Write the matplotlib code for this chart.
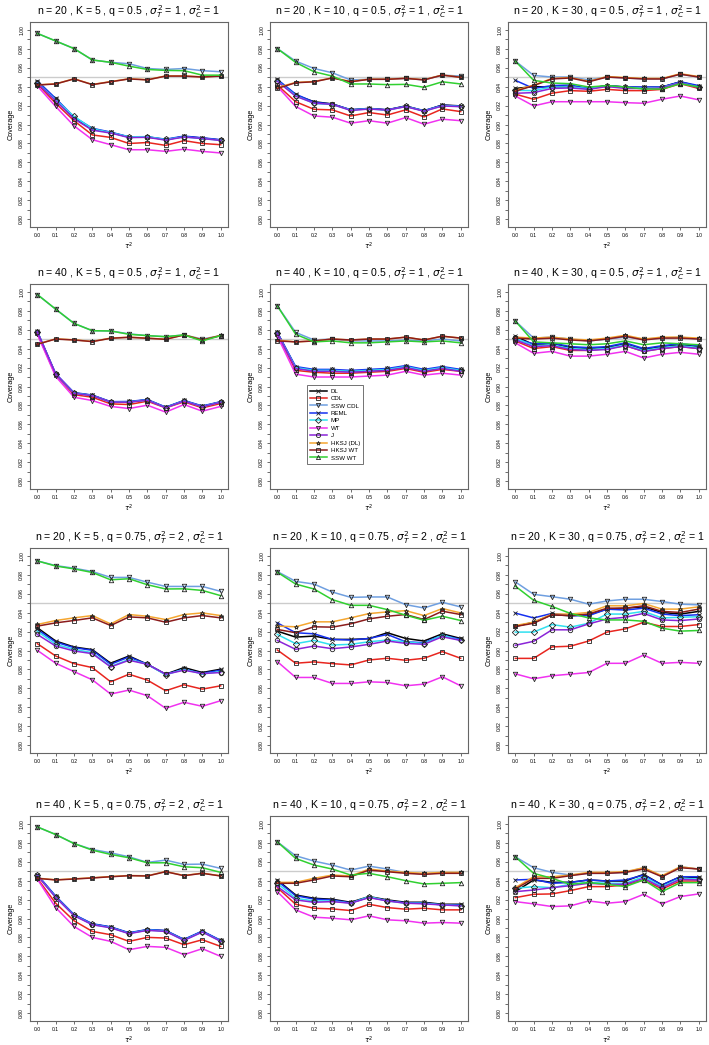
import numpy as np
import matplotlib
matplotlib.use("Agg")
import matplotlib.pyplot as plt
from matplotlib.ticker import MultipleLocator
from matplotlib.lines import Line2D

plt.rcParams['font.family'] = ['Liberation Sans', 'DejaVu Sans']
plt.rcParams['mathtext.fontset'] = 'dejavusans'

tau2 = [0.0, 0.1, 0.2, 0.3, 0.4, 0.5, 0.6, 0.7, 0.8, 0.9, 1.0]
methods = ["DL", "CDL", "SSW CDL", "REML", "MP", "WT", "J", "HKSJ (DL)", "HKSJ WT", "SSW WT"]
colors = ["#000000", "#e8261f", "#6f9fe0", "#1530f0", "#30e0f0",
          "#f032f0", "#8a24d8", "#f5a630", "#8b1c1c", "#30d030"]
markers = ["x", "s", "v", "x", "D", "v", "o", "*", "s", "^"]

# panel settings: (n, K, q, sigma2_T)
panels = [(20, 5, 0.5, 1), (20, 10, 0.5, 1), (20, 30, 0.5, 1),
          (40, 5, 0.5, 1), (40, 10, 0.5, 1), (40, 30, 0.5, 1),
          (20, 5, 0.75, 2), (20, 10, 0.75, 2), (20, 30, 0.75, 2),
          (40, 5, 0.75, 2), (40, 10, 0.75, 2), (40, 30, 0.75, 2)]

# coverage, rows in the order of `methods`
cov_20_5_05 = [
    [0.945, 0.9266, 0.9073, 0.895, 0.8916, 0.8867, 0.887, 0.884, 0.8874, 0.8857, 0.8836],
    [0.9427, 0.9224, 0.904, 0.889, 0.8864, 0.880, 0.881, 0.878, 0.883, 0.880, 0.8787],
    [0.996, 0.988, 0.980, 0.968, 0.9655, 0.964, 0.959, 0.958, 0.959, 0.9567, 0.9556],
    [0.946, 0.9275, 0.908, 0.896, 0.892, 0.887, 0.887, 0.8845, 0.8878, 0.886, 0.884],
    [0.944, 0.926, 0.9085, 0.8955, 0.8915, 0.887, 0.8872, 0.8842, 0.887, 0.885, 0.8835],
    [0.9406, 0.919, 0.8986, 0.884, 0.8787, 0.8734, 0.8734, 0.8717, 0.874, 0.8717, 0.870],
    [0.9435, 0.925, 0.906, 0.894, 0.891, 0.8862, 0.8865, 0.8835, 0.8868, 0.8852, 0.8832],
    [0.9418, 0.9428, 0.9482, 0.9422, 0.9452, 0.9482, 0.9472, 0.9512, 0.9512, 0.9502, 0.9512],
    [0.9416, 0.9427, 0.948, 0.942, 0.945, 0.948, 0.947, 0.951, 0.951, 0.950, 0.951],
    [0.996, 0.988, 0.980, 0.968, 0.9655, 0.9615, 0.958, 0.957, 0.9567, 0.952, 0.952],
]
cov_20_10_05 = [
    [0.9469, 0.931, 0.924, 0.9217, 0.9154, 0.917, 0.9154, 0.9196, 0.9143, 0.9206, 0.9196],
    [0.9416, 0.924, 0.916, 0.9154, 0.909, 0.9126, 0.910, 0.9154, 0.908, 0.9164, 0.9136],
    [0.980, 0.9668, 0.959, 0.9545, 0.9469, 0.9476, 0.948, 0.9486, 0.947, 0.952, 0.951],
    [0.9475, 0.932, 0.9235, 0.9215, 0.9156, 0.9168, 0.9156, 0.9192, 0.9147, 0.9203, 0.9193],
    [0.946, 0.9305, 0.9222, 0.921, 0.9152, 0.9165, 0.915, 0.919, 0.9142, 0.9198, 0.919],
    [0.940, 0.919, 0.909, 0.9077, 0.9014, 0.904, 0.9014, 0.9073, 0.9003, 0.9056, 0.904],
    [0.9455, 0.9298, 0.9225, 0.9212, 0.9148, 0.9163, 0.9152, 0.9188, 0.914, 0.9195, 0.9188],
    [0.939, 0.9443, 0.9453, 0.9492, 0.9453, 0.9478, 0.9478, 0.9488, 0.9472, 0.9522, 0.9498],
    [0.938, 0.944, 0.945, 0.949, 0.945, 0.9476, 0.9476, 0.9486, 0.947, 0.952, 0.9497],
    [0.980, 0.9654, 0.9556, 0.951, 0.9427, 0.9427, 0.942, 0.9423, 0.9392, 0.945, 0.9427],
]
cov_20_30_05 = [
    [0.938, 0.9399, 0.9395, 0.9395, 0.938, 0.941, 0.9395, 0.939, 0.9395, 0.945, 0.940],
    [0.932, 0.9266, 0.933, 0.9357, 0.935, 0.937, 0.9357, 0.9357, 0.937, 0.943, 0.938],
    [0.9668, 0.9517, 0.950, 0.950, 0.947, 0.950, 0.949, 0.948, 0.948, 0.953, 0.950],
    [0.9465, 0.938, 0.941, 0.9416, 0.938, 0.941, 0.9395, 0.9395, 0.9395, 0.945, 0.941],
    [0.936, 0.9357, 0.9395, 0.9395, 0.9378, 0.9405, 0.939, 0.9385, 0.939, 0.944, 0.9395],
    [0.930, 0.9196, 0.924, 0.924, 0.924, 0.924, 0.923, 0.9224, 0.9266, 0.930, 0.926],
    [0.9329, 0.9336, 0.938, 0.9385, 0.937, 0.940, 0.938, 0.938, 0.9385, 0.944, 0.939],
    [0.936, 0.9415, 0.9485, 0.9495, 0.9455, 0.9505, 0.9495, 0.9485, 0.9485, 0.9535, 0.9505],
    [0.935, 0.941, 0.948, 0.949, 0.945, 0.950, 0.949, 0.948, 0.948, 0.953, 0.950],
    [0.9668, 0.9465, 0.9437, 0.943, 0.9395, 0.941, 0.9395, 0.9374, 0.9374, 0.943, 0.9395],
]
cov_40_5_05 = [
    [0.9578, 0.913, 0.8932, 0.8907, 0.8838, 0.8838, 0.886, 0.878, 0.885, 0.879, 0.8838],
    [0.956, 0.9117, 0.8914, 0.8887, 0.8817, 0.881, 0.8845, 0.8775, 0.8838, 0.8775, 0.882],
    [0.9969, 0.9815, 0.9665, 0.9588, 0.9585, 0.9555, 0.9536, 0.9525, 0.9543, 0.950, 0.9536],
    [0.958, 0.9135, 0.8936, 0.891, 0.884, 0.8842, 0.8863, 0.8783, 0.8853, 0.8795, 0.884],
    [0.9575, 0.9128, 0.893, 0.8905, 0.8835, 0.8836, 0.8858, 0.8778, 0.8848, 0.8788, 0.8836],
    [0.955, 0.9106, 0.8887, 0.8852, 0.879, 0.8768, 0.8803, 0.873, 0.881, 0.874, 0.879],
    [0.9576, 0.9132, 0.8928, 0.8903, 0.8836, 0.8834, 0.8856, 0.8776, 0.8846, 0.8786, 0.8834],
    [0.9447, 0.9502, 0.9492, 0.9475, 0.951, 0.952, 0.951, 0.9499, 0.9545, 0.9492, 0.9538],
    [0.9445, 0.950, 0.949, 0.9473, 0.9508, 0.9518, 0.9508, 0.9497, 0.9543, 0.949, 0.9536],
    [0.9969, 0.9815, 0.9665, 0.9588, 0.9585, 0.955, 0.9536, 0.9525, 0.9543, 0.948, 0.9536],
]
cov_40_10_05 = [
    [0.957, 0.920, 0.917, 0.917, 0.916, 0.917, 0.918, 0.921, 0.917, 0.920, 0.917],
    [0.955, 0.917, 0.915, 0.914, 0.914, 0.915, 0.916, 0.919, 0.915, 0.918, 0.916],
    [0.985, 0.957, 0.949, 0.950, 0.948, 0.948, 0.948, 0.949, 0.948, 0.950, 0.948],
    [0.957, 0.921, 0.918, 0.918, 0.917, 0.918, 0.919, 0.922, 0.918, 0.921, 0.918],
    [0.956, 0.920, 0.917, 0.917, 0.916, 0.917, 0.918, 0.921, 0.917, 0.920, 0.917],
    [0.953, 0.913, 0.910, 0.910, 0.910, 0.911, 0.912, 0.916, 0.912, 0.914, 0.912],
    [0.956, 0.919, 0.916, 0.916, 0.915, 0.916, 0.917, 0.920, 0.916, 0.919, 0.916],
    [0.949, 0.947, 0.948, 0.950, 0.949, 0.950, 0.950, 0.952, 0.949, 0.953, 0.951],
    [0.948, 0.947, 0.948, 0.950, 0.949, 0.950, 0.950, 0.952, 0.949, 0.953, 0.951],
    [0.985, 0.955, 0.947, 0.948, 0.946, 0.946, 0.947, 0.948, 0.947, 0.948, 0.946],
]
cov_40_30_05 = [
    [0.953, 0.944, 0.945, 0.941, 0.940, 0.941, 0.945, 0.939, 0.942, 0.944, 0.942],
    [0.948, 0.940, 0.942, 0.938, 0.938, 0.940, 0.943, 0.937, 0.940, 0.942, 0.940],
    [0.969, 0.951, 0.952, 0.950, 0.948, 0.950, 0.952, 0.950, 0.951, 0.952, 0.950],
    [0.950, 0.945, 0.946, 0.942, 0.941, 0.942, 0.946, 0.940, 0.943, 0.945, 0.943],
    [0.951, 0.943, 0.944, 0.940, 0.939, 0.940, 0.944, 0.938, 0.941, 0.943, 0.941],
    [0.946, 0.935, 0.937, 0.932, 0.932, 0.934, 0.937, 0.930, 0.934, 0.936, 0.934],
    [0.949, 0.942, 0.943, 0.939, 0.938, 0.939, 0.943, 0.937, 0.940, 0.942, 0.940],
    [0.952, 0.951, 0.952, 0.950, 0.949, 0.951, 0.954, 0.950, 0.952, 0.952, 0.951],
    [0.951, 0.950, 0.951, 0.949, 0.948, 0.950, 0.953, 0.949, 0.951, 0.951, 0.950],
    [0.969, 0.947, 0.946, 0.945, 0.944, 0.945, 0.948, 0.944, 0.946, 0.945, 0.944],
]
cov_20_5_075 = [
    [0.924, 0.910, 0.9037, 0.9009, 0.8866, 0.8942, 0.8855, 0.875, 0.882, 0.8768, 0.8803],
    [0.9072, 0.8942, 0.8862, 0.882, 0.867, 0.875, 0.8688, 0.8576, 0.8639, 0.8593, 0.8628],
    [0.9944, 0.9895, 0.9867, 0.9832, 0.977, 0.977, 0.972, 0.9675, 0.9675, 0.9675, 0.9623],
    [0.9222, 0.9089, 0.903, 0.9002, 0.8855, 0.8932, 0.8855, 0.875, 0.8803, 0.876, 0.8792],
    [0.9204, 0.9065, 0.9012, 0.8977, 0.8831, 0.8907, 0.8855, 0.8743, 0.8803, 0.8752, 0.8778],
    [0.9002, 0.8866, 0.8778, 0.8691, 0.8541, 0.8583, 0.8524, 0.8391, 0.8454, 0.8412, 0.8471],
    [0.9169, 0.9047, 0.8995, 0.8967, 0.8827, 0.8897, 0.8855, 0.875, 0.8792, 0.8757, 0.8768],
    [0.9274, 0.9316, 0.9344, 0.9368, 0.928, 0.9379, 0.9361, 0.9326, 0.9379, 0.9396, 0.9368],
    [0.9257, 0.9291, 0.9316, 0.9344, 0.9263, 0.9354, 0.9344, 0.9298, 0.9344, 0.9368, 0.9344],
    [0.9944, 0.989, 0.986, 0.9822, 0.9745, 0.9756, 0.9693, 0.9648, 0.965, 0.9633, 0.9578],
]
cov_20_10_075 = [
    [0.9204, 0.9141, 0.9152, 0.9117, 0.9117, 0.9124, 0.9187, 0.9127, 0.910, 0.9176, 0.9127],
    [0.9005, 0.8866, 0.888, 0.8862, 0.8848, 0.890, 0.8918, 0.8897, 0.8918, 0.8988, 0.8918],
    [0.9832, 0.9728, 0.970, 0.9616, 0.956, 0.9564, 0.9564, 0.9483, 0.9448, 0.9508, 0.9459],
    [0.9291, 0.9187, 0.9176, 0.9117, 0.911, 0.9127, 0.9169, 0.9092, 0.9082, 0.9162, 0.9117],
    [0.9169, 0.9072, 0.9106, 0.9058, 0.9065, 0.9092, 0.911, 0.9092, 0.9072, 0.9162, 0.9106],
    [0.8883, 0.8716, 0.8716, 0.8653, 0.8653, 0.867, 0.8663, 0.8628, 0.8646, 0.8723, 0.8628],
    [0.9106, 0.9012, 0.9047, 0.9019, 0.9037, 0.9065, 0.910, 0.9075, 0.9065, 0.9145, 0.9106],
    [0.9257, 0.925, 0.9302, 0.9302, 0.9344, 0.9389, 0.9407, 0.942, 0.9368, 0.9442, 0.9396],
    [0.9222, 0.9187, 0.925, 0.9246, 0.9281, 0.9333, 0.9361, 0.9379, 0.9326, 0.9414, 0.9379],
    [0.9825, 0.970, 0.9648, 0.9536, 0.9476, 0.9476, 0.9431, 0.9372, 0.9319, 0.9361, 0.9316],
]
cov_20_30_075 = [
    [0.9253, 0.9298, 0.9377, 0.9367, 0.9377, 0.9436, 0.9446, 0.946, 0.9401, 0.9384, 0.9412],
    [0.8917, 0.8917, 0.9038, 0.9045, 0.910, 0.9194, 0.9228, 0.9298, 0.9253, 0.9253, 0.9273],
    [0.9723, 0.9592, 0.9567, 0.954, 0.9488, 0.9522, 0.954, 0.954, 0.9516, 0.9488, 0.9481],
    [0.9394, 0.9343, 0.9391, 0.9367, 0.9367, 0.9436, 0.9426, 0.9446, 0.9384, 0.9367, 0.9377],
    [0.9194, 0.9194, 0.9273, 0.9246, 0.9287, 0.9384, 0.9384, 0.9412, 0.9343, 0.935, 0.9356],
    [0.8754, 0.8702, 0.8734, 0.8751, 0.8768, 0.8865, 0.8865, 0.8952, 0.8865, 0.8875, 0.8865],
    [0.9055, 0.9097, 0.9218, 0.9218, 0.928, 0.9332, 0.935, 0.9391, 0.9322, 0.9315, 0.9332],
    [0.9263, 0.9298, 0.9384, 0.9384, 0.9401, 0.9471, 0.9471, 0.9495, 0.9436, 0.9436, 0.946],
    [0.9253, 0.9287, 0.9377, 0.9367, 0.9384, 0.9446, 0.9446, 0.9471, 0.9412, 0.9401, 0.9436],
    [0.9678, 0.9529, 0.9464, 0.9391, 0.9343, 0.9322, 0.9322, 0.9308, 0.9235, 0.9204, 0.9211],
]
cov_40_5_075 = [
    [0.9458, 0.9231, 0.9038, 0.8941, 0.8909, 0.8846, 0.8881, 0.8871, 0.8776, 0.8864, 0.8766],
    [0.9423, 0.9161, 0.8976, 0.8864, 0.8829, 0.8759, 0.8801, 0.8794, 0.8724, 0.8776, 0.8706],
    [0.9965, 0.9885, 0.979, 0.9727, 0.9692, 0.965, 0.9591, 0.9615, 0.957, 0.9573, 0.9528],
    [0.9462, 0.9236, 0.9042, 0.8945, 0.8912, 0.885, 0.8884, 0.8874, 0.878, 0.8868, 0.877],
    [0.9455, 0.9226, 0.9034, 0.8937, 0.8905, 0.8843, 0.8878, 0.8867, 0.8772, 0.886, 0.8762],
    [0.9416, 0.9115, 0.8916, 0.8801, 0.8759, 0.8671, 0.8706, 0.8696, 0.8619, 0.8682, 0.8601],
    [0.9452, 0.9222, 0.903, 0.8934, 0.8902, 0.884, 0.8875, 0.8864, 0.8769, 0.8857, 0.8759],
    [0.9425, 0.9408, 0.9418, 0.9429, 0.9442, 0.9453, 0.945, 0.9495, 0.9453, 0.9478, 0.945],
    [0.9423, 0.9406, 0.9416, 0.9427, 0.944, 0.9451, 0.9448, 0.9493, 0.9451, 0.9476, 0.9448],
    [0.9965, 0.9885, 0.979, 0.972, 0.9675, 0.964, 0.9587, 0.9587, 0.9545, 0.9535, 0.9486],
]
cov_40_10_075 = [
    [0.9406, 0.9248, 0.9213, 0.9203, 0.9171, 0.9231, 0.9196, 0.9171, 0.9171, 0.915, 0.915],
    [0.9325, 0.915, 0.9108, 0.9101, 0.9084, 0.915, 0.9115, 0.9098, 0.9108, 0.9091, 0.9091],
    [0.9808, 0.9661, 0.9605, 0.9563, 0.951, 0.9552, 0.9521, 0.9483, 0.9469, 0.9483, 0.9483],
    [0.9395, 0.924, 0.9205, 0.9196, 0.9164, 0.9224, 0.9189, 0.9164, 0.9164, 0.9143, 0.9143],
    [0.9371, 0.9213, 0.9185, 0.9185, 0.9161, 0.9231, 0.9185, 0.9161, 0.9161, 0.9143, 0.9136],
    [0.9283, 0.9091, 0.9014, 0.9003, 0.8986, 0.9028, 0.8986, 0.8976, 0.8951, 0.8958, 0.8951],
    [0.9336, 0.9196, 0.9171, 0.9178, 0.9161, 0.922, 0.9185, 0.9161, 0.9154, 0.9143, 0.9133],
    [0.9381, 0.9381, 0.9423, 0.9458, 0.9448, 0.9521, 0.950, 0.9486, 0.9476, 0.9486, 0.9486],
    [0.9371, 0.9371, 0.9406, 0.9448, 0.944, 0.951, 0.9493, 0.9476, 0.9465, 0.9476, 0.9476],
    [0.9808, 0.9633, 0.9563, 0.9521, 0.9458, 0.9476, 0.944, 0.9399, 0.9364, 0.9371, 0.9378],
]
cov_40_30_075 = [
    [0.9283, 0.9406, 0.9381, 0.9381, 0.9406, 0.9395, 0.9395, 0.9465, 0.9353, 0.944, 0.943],
    [0.922, 0.9255, 0.9259, 0.9294, 0.9336, 0.9336, 0.9353, 0.9406, 0.9311, 0.9395, 0.9395],
    [0.965, 0.9535, 0.9486, 0.9458, 0.9476, 0.9476, 0.9486, 0.9535, 0.944, 0.9545, 0.9521],
    [0.9406, 0.9413, 0.9371, 0.9381, 0.9406, 0.9395, 0.9406, 0.9458, 0.9353, 0.944, 0.944],
    [0.9318, 0.9336, 0.9325, 0.936, 0.9381, 0.9371, 0.9371, 0.944, 0.9336, 0.9423, 0.9416],
    [0.9178, 0.9154, 0.9126, 0.9133, 0.9185, 0.9161, 0.9178, 0.9255, 0.9154, 0.9231, 0.9259],
    [0.9283, 0.930, 0.9325, 0.9346, 0.9371, 0.936, 0.936, 0.9423, 0.9325, 0.9413, 0.9406],
    [0.9325, 0.944, 0.944, 0.9458, 0.9486, 0.9486, 0.9493, 0.9535, 0.9451, 0.9545, 0.9521],
    [0.9311, 0.9423, 0.9423, 0.9451, 0.9476, 0.9476, 0.9486, 0.9521, 0.944, 0.9535, 0.9521],
    [0.965, 0.9476, 0.9423, 0.936, 0.9378, 0.936, 0.9336, 0.9406, 0.9283, 0.9378, 0.9378],
]
coverage = [cov_20_5_05, cov_20_10_05, cov_20_30_05,
            cov_40_5_05, cov_40_10_05, cov_40_30_05,
            cov_20_5_075, cov_20_10_075, cov_20_30_075,
            cov_40_5_075, cov_40_10_075, cov_40_30_075]

W, H = 709, 1045
fig = plt.figure(figsize=(W / 100, H / 100), dpi=100)

col_left = [30, 270, 508]
row_top = [22, 284, 548, 816]
ax_w, ax_h = 198, 205

for idx, ((n, K, q, s2t), cov) in enumerate(zip(panels, coverage)):
    r, c = divmod(idx, 3)
    ax = fig.add_axes([col_left[c] / W, 1 - (row_top[r] + ax_h) / H, ax_w / W, ax_h / H])
    ax.axhline(0.95, color="#cccccc", lw=1.0, zorder=1)
    for m in range(len(methods)):
        ax.plot(tau2, cov[m], color=colors[m], lw=1.1, marker=markers[m],
                ms=3.2, mfc="none", mec="#222222", mew=0.6, zorder=2)
    ax.set_xlim(-0.04, 1.04)
    ax.set_ylim(0.792, 1.008)
    ax.set_xticks(tau2)
    ax.set_xticklabels([f"{t:.1f}" for t in tau2])
    ax.yaxis.set_major_locator(MultipleLocator(0.02))
    ax.yaxis.set_minor_locator(MultipleLocator(0.01))
    ax.yaxis.set_major_formatter(plt.FormatStrFormatter("%.2f"))
    ax.tick_params(axis="both", which="both", labelsize=3.6, length=2.2, width=0.5,
                   color="#333333", pad=2)
    for lab in ax.get_yticklabels():
        lab.set_rotation(90)
        lab.set_va("center")
    for sp in ax.spines.values():
        sp.set_color("#666666")
        sp.set_linewidth(0.8)
    ax.set_ylabel("Coverage", fontsize=5.2, labelpad=3)
    ax.set_xlabel(r"$\tau^2$", fontsize=5.2, labelpad=2)
    ax.set_title(f"n = {n} , K = {K} , q = {q} , " + r"$\sigma^2_T$" + f" = {s2t} , "
                 + r"$\sigma^2_C$" + " = 1", fontsize=7.6, pad=5)

    if idx == 4:
        handles = [Line2D([0], [0], color=colors[m], lw=1.1, marker=markers[m], ms=3,
                          mfc="none", mec="#222222", mew=0.6) for m in range(len(methods))]
        leg = ax.legend(handles, methods, loc="upper left", bbox_to_anchor=(0.17, 0.52),
                        fontsize=4.4, frameon=True, fancybox=False, handlelength=2.8,
                        borderpad=0.5, labelspacing=0.35, handletextpad=0.6)
        leg.get_frame().set_edgecolor("#333333")
        leg.get_frame().set_linewidth(0.6)

fig.savefig("out.png", dpi=100)
